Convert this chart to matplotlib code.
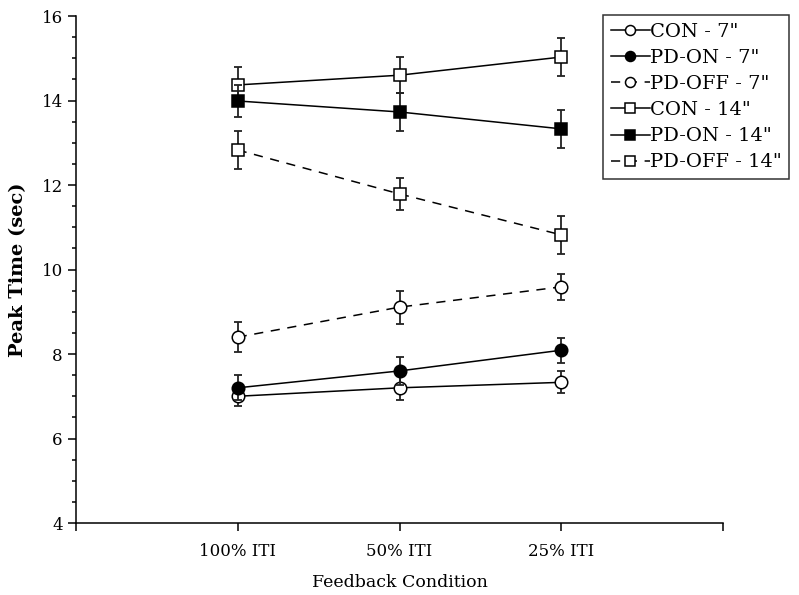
import matplotlib
matplotlib.use('Agg')
import numpy as np
import matplotlib.pyplot as plt
from matplotlib.ticker import MultipleLocator

plt.rcParams['font.family'] = ['DejaVu Serif']

conditions = ['100% ITI', '50% ITI', '25% ITI']

con_7 = [7.00, 7.20, 7.33]
con_7_err = [0.23, 0.30, 0.26]
pd_on_7 = [7.20, 7.60, 8.09]
pd_on_7_err = [0.30, 0.33, 0.30]
pd_off_7 = [8.40, 9.11, 9.59]
pd_off_7_err = [0.36, 0.39, 0.31]
con_14 = [14.37, 14.60, 15.03]
con_14_err = [0.42, 0.42, 0.45]
pd_on_14 = [13.99, 13.73, 13.33]
pd_on_14_err = [0.38, 0.45, 0.45]
pd_off_14 = [12.83, 11.79, 10.82]
pd_off_14_err = [0.44, 0.38, 0.45]

series = [
    ("CON - 7\"", con_7, con_7_err, 'o', 'white', '-'),
    ("PD-ON - 7\"", pd_on_7, pd_on_7_err, 'o', 'black', '-'),
    ("PD-OFF - 7\"", pd_off_7, pd_off_7_err, 'o', 'white', (0, (6, 5))),
    ("CON - 14\"", con_14, con_14_err, 's', 'white', '-'),
    ("PD-ON - 14\"", pd_on_14, pd_on_14_err, 's', 'black', '-'),
    ("PD-OFF - 14\"", pd_off_14, pd_off_14_err, 's', 'white', (0, (6, 5))),
]

fig = plt.figure(figsize=(7.99, 5.95), dpi=100)
ax = fig.add_axes([0.095, 0.121, 0.81, 0.852])

x = np.arange(1, len(conditions) + 1)
handles = []
for i, (label, vals, errs, marker, face, ls) in enumerate(series):
    eb = ax.errorbar(x, vals, yerr=errs, color='#222222', ecolor='#222222',
                     elinewidth=1.3, capsize=3, capthick=1.3,
                     zorder=2 + i)
    eb[0].set_visible(False)
    line, = ax.plot(x, vals, color='black', linestyle=ls, linewidth=1.1,
                    marker=marker, markersize=9 if marker == 'o' else 8.5,
                    markerfacecolor=face, markeredgecolor='black',
                    markeredgewidth=1.1, label=label, zorder=2 + i)
    handles.append(line)

ax.set_xlim(0, 4)
ax.set_ylim(4, 16)
ax.set_xticks(np.arange(0, 5))
ax.set_xticklabels([''] + conditions + [''])
ax.yaxis.set_major_locator(MultipleLocator(2))
ax.yaxis.set_minor_locator(MultipleLocator(0.5))
ax.tick_params(axis='both', direction='out', labelsize=12, width=1.1)
ax.tick_params(axis='y', which='major', length=6)
ax.tick_params(axis='y', which='minor', length=3, width=1.1)
ax.tick_params(axis='x', which='major', length=5.5, pad=9)
ax.spines['top'].set_visible(False)
ax.spines['right'].set_visible(False)
ax.spines['left'].set_linewidth(1.1)
ax.spines['bottom'].set_linewidth(1.1)

ax.set_xlabel('Feedback Condition', fontsize=12.5, labelpad=10)
ax.set_ylabel('Peak Time (sec)', fontsize=14, fontweight='bold', labelpad=10)

leg = ax.legend(handles=handles, loc='upper left',
                bbox_to_anchor=(0.755, 0.975), bbox_transform=fig.transFigure,
                fontsize=14, frameon=True, fancybox=False, edgecolor='black',
                handlelength=2.0, handletextpad=0.0, labelspacing=0.42,
                borderpad=0.4, borderaxespad=0.0, markerscale=0.8)
leg.get_frame().set_linewidth(1.1)

plt.savefig('out.png', dpi=100)
